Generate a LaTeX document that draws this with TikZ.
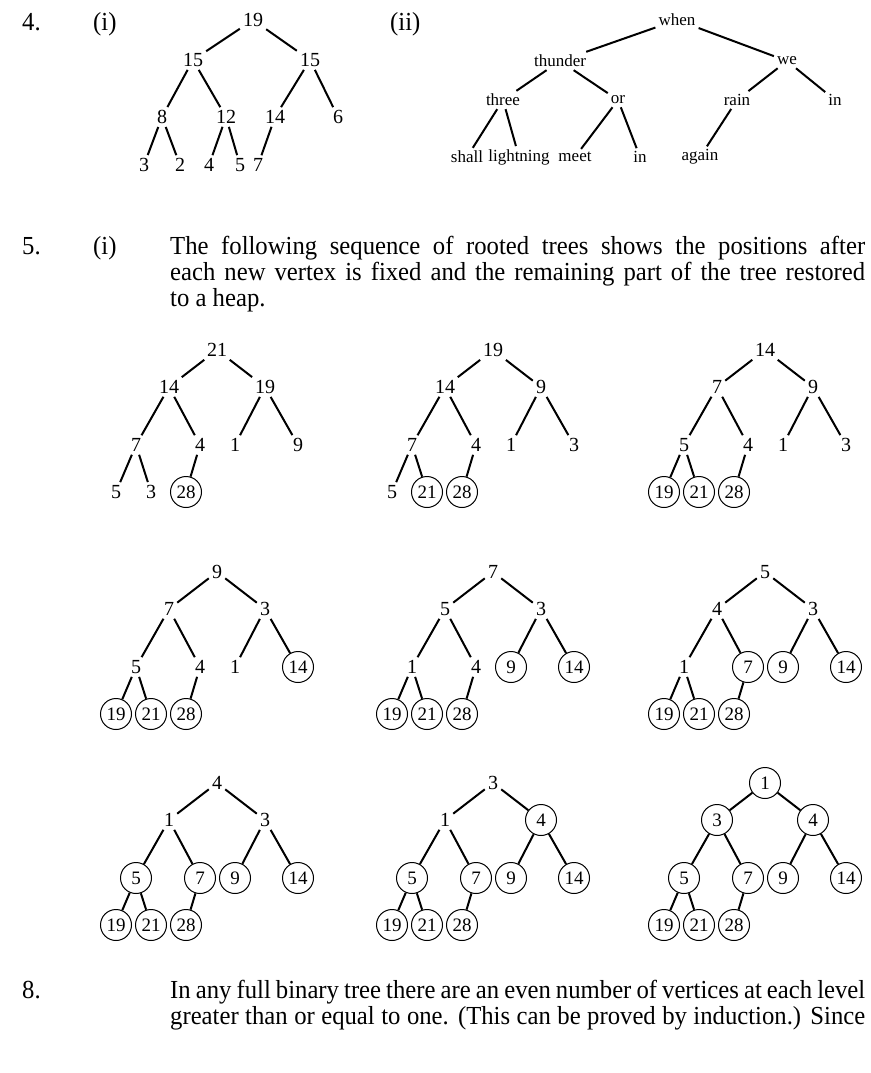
\documentclass[tikz,border=0pt]{standalone}
\usepackage{fontspec}
\setmainfont{Liberation Serif}
\newfontfamily\bodyfont[FakeStretch=0.95]{Liberation Serif}
\tikzset{
  body/.style={anchor=base west, inner sep=0pt, font=\bodyfont\fontsize{26}{30}\selectfont},
  lbl/.style={inner sep=3pt, font=\fontsize{20}{22}\selectfont},
  wlbl/.style={inner sep=3pt, font=\fontsize{17}{19}\selectfont},
  pl/.style={inner sep=3pt, font=\fontsize{20}{22}\selectfont},
  cl/.style={circle, draw, line width=1pt, minimum size=31pt, inner sep=0pt, font=\fontsize{19}{21}\selectfont},
  tedge/.style={line width=2pt}
}
\newcommand\heaptree[3]{%
  \begin{scope}[shift={#2}]
    \coordinate (#1p1) at (0,0);
    \coordinate (#1p2) at (-48,37);
    \coordinate (#1p3) at (48,37);
    \coordinate (#1p4) at (-81,95);
    \coordinate (#1p5) at (-17,95);
    \coordinate (#1p6) at (18,95);
    \coordinate (#1p7) at (81,95);
    \coordinate (#1p8) at (-101,142);
    \coordinate (#1p9) at (-66,142);
    \coordinate (#1p10) at (-31,142);
    \foreach \st/\lb [count=\i] in {#3} \node[\st] (#1n\i) at (#1p\i) {\lb};
    \foreach \a/\b in {1/2,1/3,2/4,2/5,3/6,3/7,4/8,4/9,5/10} \draw[tedge] (#1n\a) -- (#1n\b);
  \end{scope}}
\begin{document}
\begin{tikzpicture}[x=1pt,y=-1pt]
\useasboundingbox (0,0) rectangle (870,1073);
\fill[white] (0,0) rectangle (870,1073);

% question 4
\node[body] (n4) at (22,31) {4.};
\node[body] (i4) at (93,31) {(i)};
\node[body] (ii4) at (390,31) {(ii)};

\node[lbl] (a0) at (253,20) {19};
\node[lbl] (a1) at (193,60) {15};
\node[lbl] (a2) at (310,60) {15};
\node[lbl] (a3) at (162,117) {8};
\node[lbl] (a4) at (226,117) {12};
\node[lbl] (a5) at (275,117) {14};
\node[lbl] (a6) at (338,117) {6};
\node[lbl] (a7) at (144,165) {3};
\node[lbl] (a8) at (180,165) {2};
\node[lbl] (a9) at (209,165) {4};
\node[lbl] (a10) at (240,165) {5};
\node[lbl] (a11) at (258,165) {7};
\foreach \a/\b in {a0/a1,a0/a2,a1/a3,a1/a4,a2/a5,a2/a6,a3/a7,a3/a8,a4/a9,a4/a10,a5/a11}
  \draw[tedge] (\a) -- (\b);

\node[wlbl] (b0) at (677,20) {when};
\node[wlbl] (b1) at (560,61) {thunder};
\node[wlbl] (b2) at (787,61) {we};
\node[wlbl] (b3) at (503,100) {three};
\node[wlbl] (b4) at (618,100) {or};
\node[wlbl] (b5) at (737,100) {rain};
\node[wlbl] (b6) at (835,100) {in};
\node[wlbl] (b7) at (467,157) {shall};
\node[wlbl] (b8) at (519,157) {lightning};
\node[wlbl] (b9) at (575,157) {meet};
\node[wlbl] (b10) at (640,157) {in};
\node[wlbl] (b11) at (700,157) {again};
\foreach \a/\b in {b0/b1,b0/b2,b1/b3,b1/b4,b2/b5,b2/b6,b3/b7,b3/b8,b4/b9,b4/b10,b5/b11}
  \draw[tedge] (\a) -- (\b);

% question 5
\node[body] (n5) at (22,254) {5.};
\node[body] (i5) at (93,254) {(i)};
\node[body] (p1) at (170,254) {\makebox[695pt][s]{The following sequence of rooted trees shows the positions after}};
\node[body] (p2) at (170,280) {\makebox[695pt][s]{each new vertex is fixed and the remaining part of the tree restored}};
\node[body] (p3) at (170,306) {to a heap.};

\heaptree{T1}{(217,350)}{pl/21,pl/14,pl/19,pl/7,pl/4,pl/1,pl/9,pl/5,pl/3,cl/28}
\heaptree{T2}{(493,350)}{pl/19,pl/14,pl/9,pl/7,pl/4,pl/1,pl/3,pl/5,cl/21,cl/28}
\heaptree{T3}{(765,350)}{pl/14,pl/7,pl/9,pl/5,pl/4,pl/1,pl/3,cl/19,cl/21,cl/28}
\heaptree{T4}{(217,572)}{pl/9,pl/7,pl/3,pl/5,pl/4,pl/1,cl/14,cl/19,cl/21,cl/28}
\heaptree{T5}{(493,572)}{pl/7,pl/5,pl/3,pl/1,pl/4,cl/9,cl/14,cl/19,cl/21,cl/28}
\heaptree{T6}{(765,572)}{pl/5,pl/4,pl/3,pl/1,cl/7,cl/9,cl/14,cl/19,cl/21,cl/28}
\heaptree{T7}{(217,783)}{pl/4,pl/1,pl/3,cl/5,cl/7,cl/9,cl/14,cl/19,cl/21,cl/28}
\heaptree{T8}{(493,783)}{pl/3,pl/1,cl/4,cl/5,cl/7,cl/9,cl/14,cl/19,cl/21,cl/28}
\heaptree{T9}{(765,783)}{cl/1,cl/3,cl/4,cl/5,cl/7,cl/9,cl/14,cl/19,cl/21,cl/28}

% question 8
\node[body] (n8) at (22,998) {8.};
\node[body] (q1) at (170,998) {\makebox[695pt][s]{In any full binary tree there are an even number of vertices at each level}};
\node[body] (q2) at (170,1024) {\makebox[695pt][s]{greater than or equal to one. (This can be proved by induction.) Since}};
\end{tikzpicture}
\end{document}
